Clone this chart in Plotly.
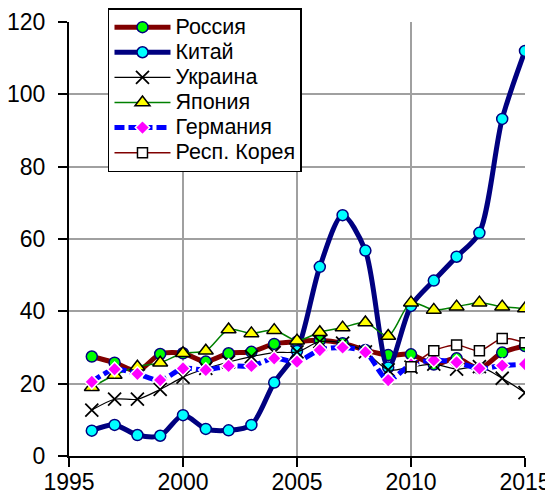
import plotly.graph_objects as go

years = list(range(1996, 2016))

russia = [27.5, 25.8, 23.5, 28.2, 28.4, 26.1, 28.4, 28.8, 31.0, 31.6,
          32.0, 31.2, 29.3, 27.9, 28.1, 25.3, 27.0, 24.2, 28.6, 30.4]
china = [7.0, 8.6, 5.8, 5.6, 11.3, 7.5, 7.1, 8.6, 20.3, 29.0,
         52.3, 66.6, 56.8, 24.5, 41.5, 48.5, 55.1, 61.7, 93.2, 112.0]
ukraine = [12.7, 15.7, 15.7, 18.4, 21.8, 24.2, 26.0, 27.5, 28.6, 28.8,
           31.6, 31.2, 28.8, 23.8, 24.6, 25.4, 24.0, 24.7, 21.5, 17.5]
japan = [19.0, 22.4, 24.7, 25.8, 28.4, 29.1, 35.0, 33.9, 34.8, 31.9,
         34.2, 35.5, 36.9, 33.2, 42.4, 40.4, 41.3, 42.4, 41.3, 40.8]
germany = [20.5, 24.0, 22.7, 21.0, 24.2, 23.8, 24.9, 24.9, 27.0, 26.1,
           29.3, 30.0, 28.7, 21.0, 25.3, 26.5, 25.9, 24.2, 25.0, 25.4]
korea = [None] * 14 + [24.7, 29.1, 30.7, 29.1, 32.5, 31.3]

x_ticks = [1995, 2000, 2005, 2010, 2015]
y_ticks = [0, 20, 40, 60, 80, 100, 120]


def lname(s):
    return '<span style="font-size:21.5px">' + s + '</span>'


fig = go.Figure()

fig.add_trace(go.Scatter(
    x=years, y=russia, name=lname("Россия"), mode="lines+markers",
    line=dict(color="#800000", width=5, shape="spline", smoothing=0.8),
    marker=dict(symbol="circle", size=11, color="#00FF00",
                line=dict(color="#000080", width=1.5))))
fig.add_trace(go.Scatter(
    x=years, y=china, name=lname("Китай"), mode="lines+markers",
    line=dict(color="#000080", width=5, shape="spline", smoothing=0.8),
    marker=dict(symbol="circle", size=11, color="#00FFFF",
                line=dict(color="#000080", width=1.5))))
fig.add_trace(go.Scatter(
    x=years, y=ukraine, name=lname("Украина"), mode="lines+markers",
    line=dict(color="#000000", width=1.2, shape="spline", smoothing=0.8),
    marker=dict(symbol="x-thin", size=13, color="#000000",
                line=dict(color="#000000", width=1.8))))
fig.add_trace(go.Scatter(
    x=years, y=japan, name=lname("Япония"), mode="lines+markers",
    line=dict(color="#008000", width=1.5, shape="spline", smoothing=0.8),
    marker=dict(symbol="triangle-up", size=13, color="#FFFF00",
                line=dict(color="#000000", width=1.5))))
fig.add_trace(go.Scatter(
    x=years, y=germany, name=lname("Германия"), mode="lines+markers",
    line=dict(color="#0000FF", width=5, dash="10px,4px", shape="spline", smoothing=0.8),
    marker=dict(symbol="diamond", size=11, color="#FF00FF",
                line=dict(color="#FFFFFF", width=1.5))))
fig.add_trace(go.Scatter(
    x=years, y=korea, name=lname("Респ. Корея"), mode="lines+markers",
    line=dict(color="#800000", width=1.5, shape="spline", smoothing=0.8),
    marker=dict(symbol="square", size=10, color="#FFFFFF",
                line=dict(color="#000000", width=1.5))))

font_family = "Liberation Sans, Arial, sans-serif"

fig.update_layout(
    width=545, height=490,
    margin=dict(l=61, r=28, t=14, b=42, autoexpand=False),
    paper_bgcolor="white", plot_bgcolor="white",
    font=dict(family=font_family, size=22, color="black"),
    showlegend=True,
    legend=dict(
        x=0.0855, y=1.032, xanchor="left", yanchor="top",
        bgcolor="white", bordercolor="black", borderwidth=1.5,
        font=dict(family=font_family, size=17, color="black"),
        tracegroupgap=0, itemwidth=56,
    ),
    xaxis=dict(
        range=[1995, 2015], tickvals=x_ticks, ticktext=[str(v) for v in x_ticks],
        showgrid=True, gridcolor="#A0A0A0", gridwidth=2,
        showline=True, linecolor="black", linewidth=2,
        ticks="outside", ticklen=9, tickwidth=2, tickcolor="black",
        zeroline=False, tickfont=dict(size=23), automargin=False,
        ticklabelstandoff=-5,
    ),
    yaxis=dict(
        range=[0, 120], tickvals=y_ticks,
        showgrid=True, gridcolor="#A0A0A0", gridwidth=2,
        showline=True, linecolor="black", linewidth=2,
        ticks="outside", ticklen=9, tickwidth=2, tickcolor="black",
        zeroline=False, tickfont=dict(size=23), automargin=False,
        ticklabelstandoff=8,
    ),
)

fig.write_html("out.html")
